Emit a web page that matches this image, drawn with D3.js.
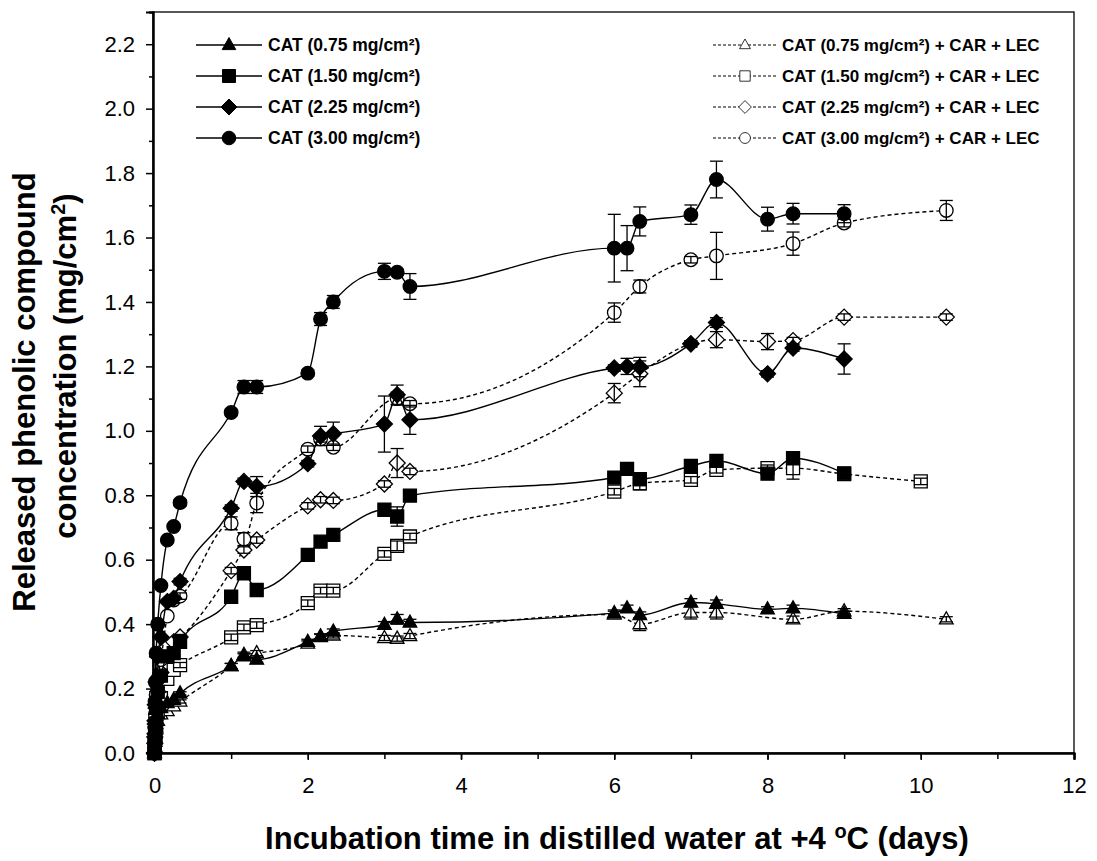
<!DOCTYPE html>
<html>
<head>
<meta charset="utf-8">
<script src="https://cdn.jsdelivr.net/npm/d3@7"></script>
<style>
body { margin: 0; background: #fff; }
text { font-family: "Liberation Sans", Arial, sans-serif; }
</style>
</head>
<body>
<script>
// sampling times (days)
var tSolid = [0, 0.0035, 0.007, 0.0104, 0.0208, 0.0417, 0.0833, 0.1667, 0.25, 0.3333,
  1, 1.1667, 1.3333, 2, 2.1667, 2.3333, 3, 3.1667, 3.3333,
  6, 6.1667, 6.3333, 7, 7.3333, 8, 8.3333, 9];
var tDashed = [0, 0.0035, 0.007, 0.0104, 0.0208, 0.0417, 0.0833, 0.1667, 0.25, 0.3333,
  1, 1.1667, 1.3333, 2, 2.1667, 2.3333, 3, 3.1667, 3.3333,
  6, 6.3333, 7, 7.3333, 8, 8.3333, 9, 10, 10.3333];

// CAT alone
var cat075 = [0, 0.02, 0.04, 0.06, 0.09, 0.12, 0.14, 0.155, 0.165, 0.185,
  0.27, 0.30, 0.29, 0.345, 0.362, 0.377, 0.398, 0.415, 0.405,
  0.434, 0.449, 0.428, 0.467, 0.463, 0.446, 0.449, 0.432];
var cat075Err = [0, 0, 0, 0, 0, 0, 0, 0, 0, 0.005,
  0.008, 0.008, 0.008, 0.008, 0.008, 0.008, 0.01, 0.015, 0.01,
  0.01, 0.01, 0.01, 0.012, 0.012, 0.008, 0.01, 0.008];
var cat150 = [0, 0.03, 0.06, 0.09, 0.14, 0.19, 0.24, 0.30, 0.31, 0.345,
  0.485, 0.558, 0.506, 0.615, 0.656, 0.677, 0.755, 0.734, 0.799,
  0.855, 0.882, 0.85, 0.891, 0.907, 0.867, 0.915, 0.868];
var cat150Err = [0, 0, 0, 0, 0, 0, 0, 0, 0, 0.008,
  0.01, 0.01, 0.01, 0.01, 0.01, 0.01, 0.01, 0.03, 0.01,
  0.01, 0.01, 0.02, 0.01, 0.01, 0.01, 0.02, 0.01];
var cat225 = [0, 0.05, 0.10, 0.15, 0.22, 0.30, 0.36, 0.47, 0.48, 0.532,
  0.76, 0.843, 0.827, 0.898, 0.984, 0.991, 1.021, 1.112, 1.034,
  1.195, 1.20, 1.198, 1.27, 1.336, 1.177, 1.257, 1.223];
var cat225Err = [0, 0, 0, 0, 0, 0, 0, 0, 0, 0.01,
  0.01, 0.01, 0.031, 0.01, 0.03, 0.036, 0.087, 0.03, 0.045,
  0.01, 0.025, 0.03, 0.01, 0.015, 0.01, 0.01, 0.047];
var cat300 = [0, 0.08, 0.16, 0.22, 0.31, 0.40, 0.52, 0.661, 0.703, 0.777,
  1.057, 1.136, 1.136, 1.179, 1.347, 1.40, 1.495, 1.492, 1.448,
  1.567, 1.567, 1.65, 1.671, 1.78, 1.657, 1.674, 1.674];
var cat300Err = [0, 0, 0, 0, 0, 0, 0, 0, 0, 0.01,
  0.01, 0.02, 0.02, 0.01, 0.02, 0.02, 0.025, 0.01, 0.04,
  0.105, 0.07, 0.045, 0.03, 0.057, 0.037, 0.032, 0.028];

// CAT + CAR + LEC (null = not measured)
var car075 = [0, 0.02, 0.035, 0.05, 0.08, 0.10, 0.12, 0.13, 0.145, 0.16,
  0.27, 0.305, 0.31, 0.34, 0.36, 0.365, 0.357, 0.355, 0.363,
  0.43, 0.40, 0.436, 0.436, null, 0.415, 0.44, null, 0.415];
var car075Err = [0, 0, 0, 0, 0, 0, 0, 0, 0, 0.005,
  0.008, 0.008, 0.008, 0.008, 0.008, 0.008, 0.008, 0.008, 0.008,
  0.01, 0.02, 0.02, 0.02, 0, 0.01, 0.008, 0, 0.008];
var car150 = [0, 0.02, 0.04, 0.06, 0.09, 0.13, 0.17, 0.23, 0.258, 0.273,
  0.359, 0.39, 0.397, 0.465, 0.504, 0.504, 0.618, 0.643, 0.672,
  0.811, 0.837, 0.848, 0.879, 0.884, 0.884, 0.866, 0.843, null];
var car150Err = [0, 0, 0, 0, 0, 0, 0, 0, 0, 0.008,
  0.01, 0.01, 0.01, 0.01, 0.01, 0.01, 0.01, 0.015, 0.01,
  0.01, 0.02, 0.01, 0.01, 0.01, 0.034, 0.01, 0.01, 0];
var car225 = [0, 0.03, 0.06, 0.09, 0.14, 0.19, 0.25, 0.33, 0.345, 0.36,
  0.566, 0.63, 0.661, 0.767, 0.786, 0.784, 0.835, 0.90, 0.874,
  1.117, 1.177, 1.27, 1.283, 1.277, 1.28, 1.353, null, 1.353];
var car225Err = [0, 0, 0, 0, 0, 0, 0, 0, 0, 0.008,
  0.01, 0.01, 0.01, 0.01, 0.01, 0.01, 0.01, 0.045, 0.01,
  0.03, 0.04, 0.01, 0.025, 0.025, 0.01, 0.01, 0, 0.01];
var car300 = [0, 0.04, 0.08, 0.12, 0.18, 0.23, 0.29, 0.425, 0.475, 0.487,
  0.713, 0.664, 0.776, 0.943, 0.975, 0.949, null, 1.10, 1.084,
  1.367, 1.448, 1.531, 1.543, null, 1.581, 1.645, null, 1.684];
var car300Err = [0, 0, 0, 0, 0, 0, 0, 0, 0.01, 0.01,
  0.02, 0.02, 0.03, 0.01, 0.01, 0.01, 0, 0.02, 0.01,
  0.03, 0.02, 0.01, 0.073, 0, 0.036, 0.012, 0, 0.031];

var legendSolid = ["CAT (0.75 mg/cm²)", "CAT (1.50 mg/cm²)", "CAT (2.25 mg/cm²)", "CAT (3.00 mg/cm²)"];
var legendDashed = ["CAT (0.75 mg/cm²) + CAR + LEC", "CAT (1.50 mg/cm²) + CAR + LEC",
  "CAT (2.25 mg/cm²) + CAR + LEC", "CAT (3.00 mg/cm²) + CAR + LEC"];
var xTicks = [0, 2, 4, 6, 8, 10, 12];
var yTicks = [0, 0.2, 0.4, 0.6, 0.8, 1.0, 1.2, 1.4, 1.6, 1.8, 2.0, 2.2];

var w = 1097, h = 861;
var pLeft = 153, pRight = 1074, pTop = 12, pBottom = 753;

var svg = d3.select("body")
  .append("svg")
  .attr("width", w)
  .attr("height", h);

var x = d3.scaleLinear().domain([-0.02, 12]).range([pLeft, pRight]);
var y = d3.scaleLinear().domain([0, 2.3]).range([pBottom, pTop]);

// marker shapes
var shapes = {
  triangle: { draw: function(c, s) { c.moveTo(0, -7.5); c.lineTo(6.8, 4.6); c.lineTo(-6.8, 4.6); c.closePath(); } },
  square: { draw: function(c, s) { c.rect(-6.5, -6.5, 13, 13); } },
  diamond: { draw: function(c, s) { c.moveTo(0, -8); c.lineTo(8, 0); c.lineTo(0, 8); c.lineTo(-8, 0); c.closePath(); } },
  circle: { draw: function(c, s) { c.moveTo(6.8, 0); c.arc(0, 0, 6.8, 0, 2 * Math.PI); } }
};

var series = [
  { t: tDashed, v: car075, e: car075Err, shape: "triangle", fill: "#fff", dash: "4,3" },
  { t: tDashed, v: car150, e: car150Err, shape: "square", fill: "#fff", dash: "4,3" },
  { t: tDashed, v: car225, e: car225Err, shape: "diamond", fill: "#fff", dash: "4,3" },
  { t: tDashed, v: car300, e: car300Err, shape: "circle", fill: "#fff", dash: "4,3" },
  { t: tSolid, v: cat075, e: cat075Err, shape: "triangle", fill: "#000", dash: null },
  { t: tSolid, v: cat150, e: cat150Err, shape: "square", fill: "#000", dash: null },
  { t: tSolid, v: cat225, e: cat225Err, shape: "diamond", fill: "#000", dash: null },
  { t: tSolid, v: cat300, e: cat300Err, shape: "circle", fill: "#000", dash: null }
];

var line = d3.line()
  .x(function(d) { return x(d.t); })
  .y(function(d) { return y(d.v); })
  .curve(d3.curveMonotoneX);

series.forEach(function(s) {
  var pts = s.t.map(function(t, i) { return { t: t, v: s.v[i], e: s.e[i] }; })
    .filter(function(d) { return d.v !== null; });
  var g = svg.append("g");
  g.append("path")
    .datum(pts)
    .attr("d", line)
    .attr("fill", "none")
    .attr("stroke", "#000")
    .attr("stroke-width", 1.4)
    .attr("stroke-dasharray", s.dash);
  g.selectAll(".m")
    .data(pts)
    .enter().append("path")
    .attr("transform", function(d) { return "translate(" + x(d.t) + "," + y(d.v) + ")"; })
    .attr("d", d3.symbol().type(shapes[s.shape]))
    .attr("fill", s.fill)
    .attr("stroke", "#000")
    .attr("stroke-width", 1.3);
  // error bars on top
  var eb = g.selectAll(".e")
    .data(pts.filter(function(d) { return d.e > 0; }))
    .enter().append("g")
    .attr("stroke", "#000")
    .attr("stroke-width", 1.3);
  eb.append("line")
    .attr("x1", function(d) { return x(d.t); })
    .attr("x2", function(d) { return x(d.t); })
    .attr("y1", function(d) { return y(d.v - d.e); })
    .attr("y2", function(d) { return y(d.v + d.e); });
  [-1, 1].forEach(function(k) {
    eb.append("line")
      .attr("x1", function(d) { return x(d.t) - 6.5; })
      .attr("x2", function(d) { return x(d.t) + 6.5; })
      .attr("y1", function(d) { return y(d.v + k * d.e); })
      .attr("y2", function(d) { return y(d.v + k * d.e); });
  });
});

// frame
svg.append("rect")
  .attr("x", pLeft).attr("y", pTop)
  .attr("width", pRight - pLeft).attr("height", pBottom - pTop)
  .attr("fill", "none").attr("stroke", "#000").attr("stroke-width", 1.3);

// axes
svg.append("g")
  .attr("transform", "translate(0," + pBottom + ")")
  .call(d3.axisBottom(x).tickValues(d3.range(0, 13, 1)).tickSize(6).tickFormat(""));
svg.append("g")
  .attr("transform", "translate(0," + pBottom + ")")
  .call(d3.axisBottom(x).tickValues(xTicks).tickSize(7).tickPadding(17).tickFormat(d3.format("d")));
svg.append("g")
  .attr("transform", "translate(" + pLeft + ",0)")
  .call(d3.axisLeft(y).tickValues(d3.range(0.1, 2.31, 0.2)).tickSize(4).tickFormat(""));
svg.append("g")
  .attr("transform", "translate(" + pLeft + ",0)")
  .call(d3.axisLeft(y).tickValues(yTicks).tickSize(7).tickPadding(11).tickFormat(d3.format(".1f")));

svg.selectAll(".domain").attr("stroke-width", 2);
svg.selectAll(".tick line").attr("stroke-width", 1.5);
svg.selectAll(".tick text")
  .style("font-family", "'Liberation Sans', Arial, sans-serif")
  .style("font-size", "22px")
  .attr("fill", "#000");

// axis titles
var xt = svg.append("text")
  .attr("x", 617).attr("y", 849)
  .attr("text-anchor", "middle")
  .style("font-size", "31px").style("font-weight", "bold");
xt.append("tspan").text("Incubation time in distilled water at +4 ");
xt.append("tspan").attr("baseline-shift", "super").style("font-size", "20px").text("o");
xt.append("tspan").text("C (days)");

var yt1 = svg.append("text")
  .attr("transform", "translate(35,392) rotate(-90)")
  .attr("text-anchor", "middle")
  .style("font-size", "31px").style("font-weight", "bold")
  .text("Released phenolic compound");
var yt2 = svg.append("text")
  .attr("transform", "translate(76,366) rotate(-90)")
  .attr("text-anchor", "middle")
  .style("font-size", "31px").style("font-weight", "bold");
yt2.append("tspan").text("concentration (mg/cm");
yt2.append("tspan").attr("baseline-shift", "super").style("font-size", "20px").text("2");
yt2.append("tspan").text(")");

// legend
var rows = [45, 76, 107, 138];
var legShapes = ["triangle", "square", "diamond", "circle"];
legendSolid.forEach(function(txt, i) {
  svg.append("line").attr("x1", 196).attr("x2", 262).attr("y1", rows[i]).attr("y2", rows[i])
    .attr("stroke", "#000").attr("stroke-width", 1.4);
  svg.append("path").attr("transform", "translate(229," + rows[i] + ")")
    .attr("d", d3.symbol().type(shapes[legShapes[i]])).attr("fill", "#000").attr("stroke", "#000");
  svg.append("text").attr("x", 268).attr("y", rows[i] + 6)
    .style("font-size", "17.5px").style("font-weight", "bold").text(txt);
});
legendDashed.forEach(function(txt, i) {
  svg.append("line").attr("x1", 713).attr("x2", 778).attr("y1", rows[i]).attr("y2", rows[i])
    .attr("stroke", "#000").attr("stroke-width", 1).attr("stroke-dasharray", "3,2");
  svg.append("path").attr("transform", "translate(745," + rows[i] + ") scale(0.8)")
    .attr("d", d3.symbol().type(shapes[legShapes[i]])).attr("fill", "#fff").attr("stroke", "#000");
  svg.append("text").attr("x", 782).attr("y", rows[i] + 6)
    .style("font-size", "17px").style("font-weight", "bold").text(txt);
});
</script>
</body>
</html>
